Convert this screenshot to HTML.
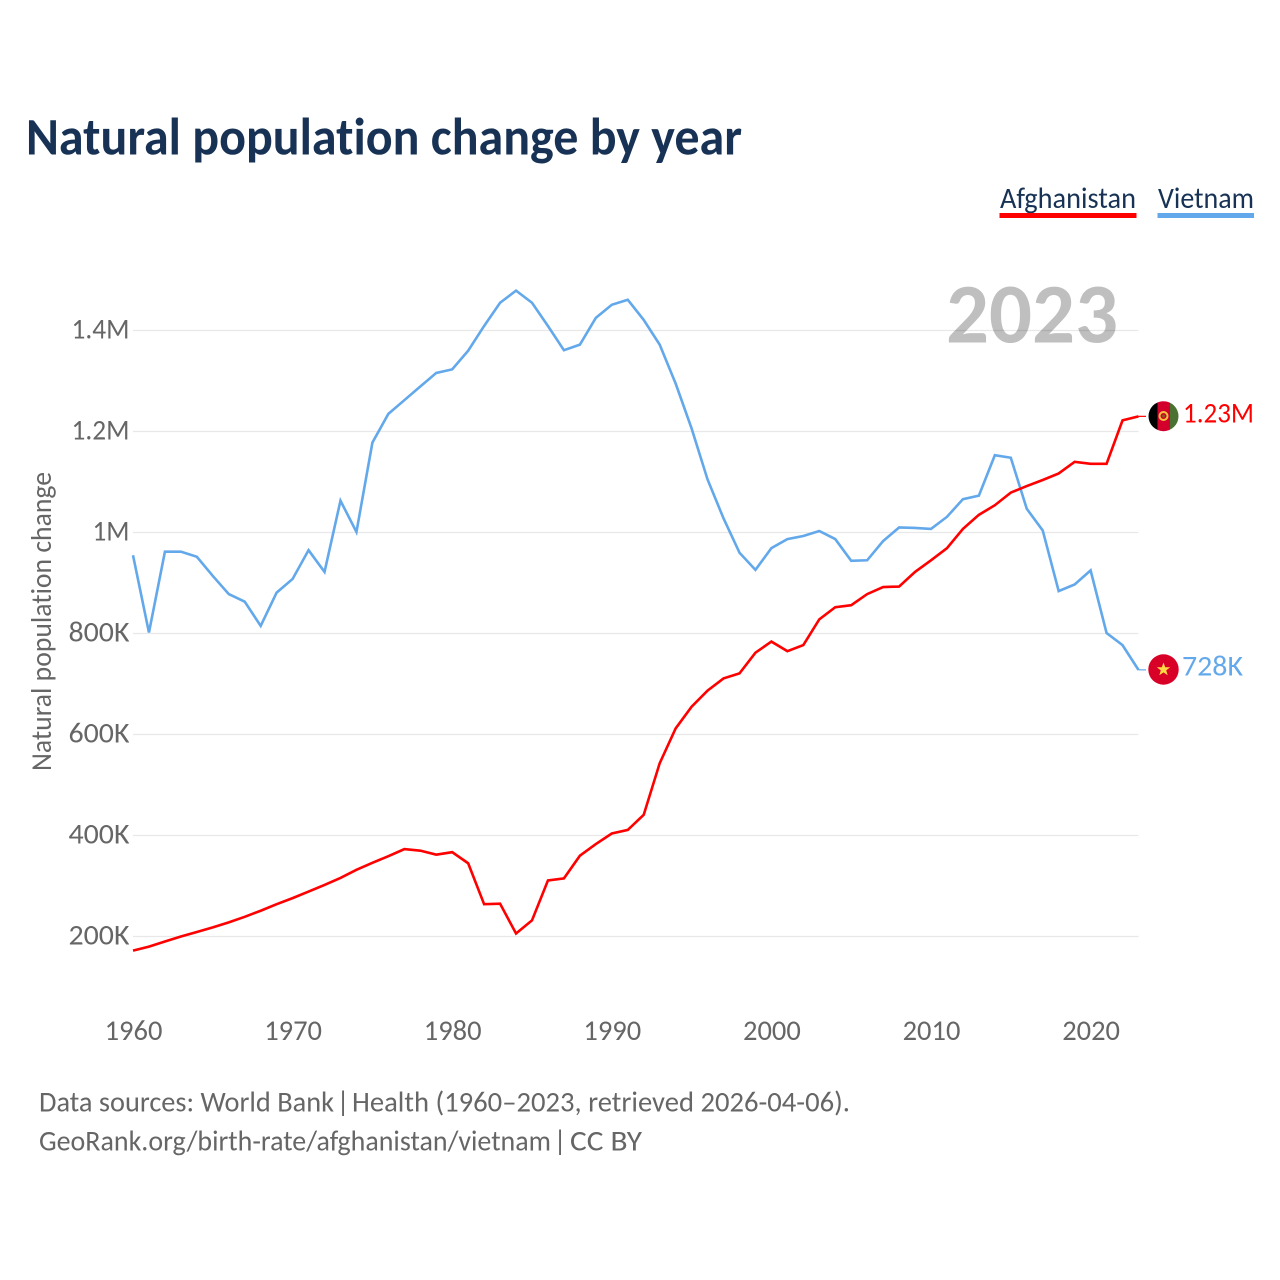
<!DOCTYPE html>
<html lang="en">
<head>
<meta charset="utf-8">
<title>Natural population change by year</title>
<style>
html,body{margin:0;padding:0;background:#fff;width:1280px;height:1280px;overflow:hidden}
svg{display:block}
text{font-family:"Carlito","Lato","Liberation Sans",sans-serif;font-variant-ligatures:none}
</style>
</head>
<body>
<svg id="chart" xmlns="http://www.w3.org/2000/svg" width="1280" height="1280" viewBox="0 0 1280 1280">
  <rect x="0" y="0" width="1280" height="1280" fill="#ffffff"/>
  <text x="26" y="154.5" font-size="53" font-weight="700" fill="#173254" textLength="716" lengthAdjust="spacingAndGlyphs">Natural population change by year</text>

  <g id="grid"></g>
  <g id="yticks"></g>
  <g id="xticks"></g>

  <text transform="translate(51 621.5) rotate(-90)" text-anchor="middle" font-size="28.5" fill="#666666" textLength="299" lengthAdjust="spacingAndGlyphs">Natural population change</text>
  <text x="946" y="342.7" font-size="85" font-weight="700" fill="#000000" fill-opacity="0.25" textLength="172" lengthAdjust="spacingAndGlyphs">2023</text>

  <g id="series"></g>

  <g>
    <text x="1000" y="208" font-size="29.5" fill="#173254" textLength="136" lengthAdjust="spacingAndGlyphs">Afghanistan</text>
    <rect x="999.5" y="213" width="137" height="5" fill="#ff0000"/>
  </g>
  <g>
    <text x="1158" y="208" font-size="29.5" fill="#173254" textLength="96" lengthAdjust="spacingAndGlyphs">Vietnam</text>
    <rect x="1157.5" y="213" width="96.5" height="5" fill="#62a8ea"/>
  </g>

  <defs>
    <clipPath id="flag-af-clip"><circle cx="1163.5" cy="416.2" r="15"/></clipPath>
  </defs>
  <g clip-path="url(#flag-af-clip)">
    <rect x="1148" y="401" width="9.5" height="31" fill="#000000"/>
    <rect x="1157.5" y="401" width="12.5" height="31" fill="#d2002a"/>
    <rect x="1170" y="401" width="9" height="31" fill="#4a7032"/>
    <circle cx="1163.5" cy="416" r="4" fill="none" stroke="#f2c33c" stroke-width="2"/>
    <circle cx="1163.5" cy="416" r="1.5" fill="#8a5a20"/>
  </g>
  <text x="1183" y="422.5" font-size="28.5" fill="#ff0000" textLength="71" lengthAdjust="spacingAndGlyphs">1.23M</text>

  <g>
    <circle cx="1163.5" cy="669.5" r="15.2" fill="#d80027"/>
    <polygon points="1163.5,662.5 1165.2,667.2 1170.2,667.3 1166.2,670.4 1167.7,675.2 1163.5,672.4 1159.3,675.2 1160.8,670.4 1156.8,667.3 1161.8,667.2" fill="#ffda44"/>
  </g>
  <text x="1182" y="675.5" font-size="28.5" fill="#62a8ea" textLength="61" lengthAdjust="spacingAndGlyphs">728K</text>

  <g font-size="28.5" fill="#666666">
    <text x="39" y="1111.7" textLength="295" lengthAdjust="spacingAndGlyphs">Data sources: World Bank</text>
    <text x="336.5" y="1111.7">|</text>
    <text x="352" y="1111.7" textLength="498" lengthAdjust="spacingAndGlyphs">Health (1960–2023, retrieved 2026-04-06).</text>
  </g>
  <g font-size="28.5" fill="#666666">
    <text x="39" y="1150.5" textLength="512" lengthAdjust="spacingAndGlyphs">GeoRank.org/birth-rate/afghanistan/vietnam</text>
    <text x="553.5" y="1150.5">|</text>
    <text x="570" y="1150.5" textLength="72" lengthAdjust="spacingAndGlyphs">CC BY</text>
  </g>
</svg>
<script>
const startYear = 1960;
const xTickYears = [1960, 1970, 1980, 1990, 2000, 2010, 2020];
const yTickValues = [200, 400, 600, 800, 1000, 1200, 1400];
const yTickLabels = ["200K", "400K", "600K", "800K", "1M", "1.2M", "1.4M"];
const afghanistan = [172,180,190,200,209,218,228,239,251,264,276,289,302,316,332,346,359,373,370,362,367,345,264,265,206,232,311,315,360,383,404,411,441,543,612,655,687,711,721,762,784,765,777,828,852,856,878,892,893,922,945,969,1007,1035,1054,1079,1092,1104,1117,1140,1136,1136,1222,1230];
const vietnam = [955,802,962,962,952,914,878,863,815,881,908,965,922,1063,1001,1178,1235,1262,1289,1316,1323,1360,1409,1455,1479,1455,1409,1361,1372,1425,1451,1461,1421,1372,1295,1206,1105,1028,960,926,969,987,993,1003,987,944,945,983,1010,1009,1007,1031,1066,1073,1153,1148,1047,1004,884,897,925,801,777,728];

const SVG_NS = "http://www.w3.org/2000/svg";
function xScale(year) { return 133 + (year - 1960) * 15.96; }
function yScale(value) { return 936.5 - (value - 200) * 0.505; }
function tickLabelWidth(text) {
  if (text.endsWith("K")) { return 61; }
  return text.length > 2 ? 58 : 37;
}

const gridLayer = document.getElementById("grid");
const yTickLayer = document.getElementById("yticks");
const xTickLayer = document.getElementById("xticks");
const seriesLayer = document.getElementById("series");

yTickValues.forEach(function (value, i) {
  const line = document.createElementNS(SVG_NS, "line");
  
  
  line.setAttribute("x1", 133);
  line.setAttribute("x2", 1138.5);
  line.setAttribute("y1", yScale(value));
  line.setAttribute("y2", yScale(value));
  line.setAttribute("stroke", "#e8e8e8");
  line.setAttribute("stroke-width", "1.2");
  gridLayer.appendChild(line);

  const label = document.createElementNS(SVG_NS, "text");
  
  
  label.setAttribute("x", 129.5 - tickLabelWidth(yTickLabels[i]));
  label.setAttribute("y", yScale(value) + 8);
  label.setAttribute("font-size", "28.5");
  label.setAttribute("fill", "#666666");
  label.setAttribute("textLength", tickLabelWidth(yTickLabels[i]));
  label.setAttribute("lengthAdjust", "spacingAndGlyphs");
  label.textContent = yTickLabels[i];
  yTickLayer.appendChild(label);
});

xTickYears.forEach(function (year) {
  const label = document.createElementNS(SVG_NS, "text");
  
  
  label.setAttribute("x", xScale(year) + 0.5);
  label.setAttribute("y", 1040);
  label.setAttribute("text-anchor", "middle");
  label.setAttribute("font-size", "28.5");
  label.setAttribute("fill", "#666666");
  label.textContent = String(year);
  xTickLayer.appendChild(label);
});

function linePoints(values) {
  return values.map(function (value, i) {
    return xScale(startYear + i).toFixed(2) + "," + yScale(value).toFixed(2);
  }).join(" ");
}

const vietnamLine = document.createElementNS(SVG_NS, "polyline");


vietnamLine.setAttribute("points", linePoints(vietnam));
vietnamLine.setAttribute("fill", "none");
vietnamLine.setAttribute("stroke", "#62a8ea");
vietnamLine.setAttribute("stroke-width", "2.6");
seriesLayer.appendChild(vietnamLine);

const afghanistanLine = document.createElementNS(SVG_NS, "polyline");


afghanistanLine.setAttribute("points", linePoints(afghanistan));
afghanistanLine.setAttribute("fill", "none");
afghanistanLine.setAttribute("stroke", "#ff0000");
afghanistanLine.setAttribute("stroke-width", "2.6");
seriesLayer.appendChild(afghanistanLine);

const vietnamLeader = document.createElementNS(SVG_NS, "line");


vietnamLeader.setAttribute("x1", xScale(2023));
vietnamLeader.setAttribute("x2", 1146);
vietnamLeader.setAttribute("y1", yScale(vietnam[vietnam.length - 1]));
vietnamLeader.setAttribute("y2", yScale(vietnam[vietnam.length - 1]));
vietnamLeader.setAttribute("stroke", "#62a8ea");
vietnamLeader.setAttribute("stroke-width", "1.2");
seriesLayer.appendChild(vietnamLeader);

const afghanistanLeader = document.createElementNS(SVG_NS, "line");


afghanistanLeader.setAttribute("x1", xScale(2023));
afghanistanLeader.setAttribute("x2", 1146);
afghanistanLeader.setAttribute("y1", yScale(afghanistan[afghanistan.length - 1]));
afghanistanLeader.setAttribute("y2", yScale(afghanistan[afghanistan.length - 1]));
afghanistanLeader.setAttribute("stroke", "#ff0000");
afghanistanLeader.setAttribute("stroke-width", "1.2");
seriesLayer.appendChild(afghanistanLeader);
</script>
</body>
</html>
